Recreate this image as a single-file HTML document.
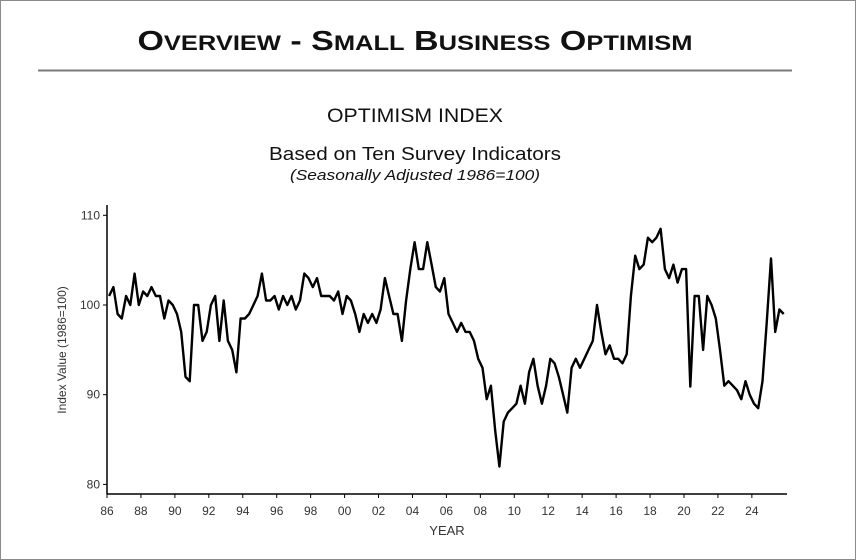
<!DOCTYPE html>
<html><head><meta charset="utf-8"><style>
body{margin:0;background:#fff;width:856px;height:560px;overflow:hidden;font-family:"Liberation Sans",sans-serif}
#frame{position:absolute;left:0;top:0;width:854px;height:558px;border:1px solid #8a8a8a}
</style></head><body>
<div id="frame"></div>
<svg width="856" height="560" style="position:absolute;left:0;top:0">
<text x="415" y="50" text-anchor="middle" font-family="Liberation Sans" font-weight="bold" font-size="28" textLength="555" lengthAdjust="spacingAndGlyphs" fill="#111">O<tspan font-size="21">VERVIEW</tspan> - S<tspan font-size="21">MALL</tspan> B<tspan font-size="21">USINESS</tspan> O<tspan font-size="21">PTIMISM</tspan></text>
<line x1="38" y1="70.5" x2="792" y2="70.5" stroke="#7a7a7a" stroke-width="2"/>
<text x="415" y="122" text-anchor="middle" font-size="19" fill="#111" textLength="176" lengthAdjust="spacingAndGlyphs">OPTIMISM INDEX</text>
<text x="415" y="160" text-anchor="middle" font-size="18" fill="#111" textLength="292" lengthAdjust="spacingAndGlyphs">Based on Ten Survey Indicators</text>
<text x="415" y="180" text-anchor="middle" font-size="15" font-style="italic" fill="#111" textLength="250" lengthAdjust="spacingAndGlyphs">(Seasonally Adjusted 1986=100)</text>
<g id="axes"></g>
<path id="line" fill="none" stroke="#000" stroke-width="2.4" stroke-linejoin="round"/>
<text x="447" y="535" text-anchor="middle" font-size="13" fill="#333">YEAR</text>
<text transform="translate(66,350) rotate(-90)" text-anchor="middle" font-size="12" fill="#333">Index Value (1986=100)</text>
</svg>
<script>
const startYear = 1986;
const quarterlyValues = [
101,102,99,98.5, 101,100,103.5,100, 101.5,101,102,101, 101,98.5,100.5,100,
99,97,92,91.5, 100,100,96,97, 100,101,96,100.5, 96,95,92.5,98.5,
98.5,99,100,101, 103.5,100.5,100.5,101, 99.5,101,100,101, 99.5,100.5,103.5,103,
102,103,101,101, 101,100.5,101.5,99, 101,100.5,99,97, 99,98,99,98,
99.5,103,101,99, 99,96,100.5,104, 107,104,104,107, 104.5,102,101.5,103,
99,98,97,98, 97,97,96,94, 93,89.5,91,86, 82,87,88,88.5,
89,91,89,92.5, 94,91,89,91, 94,93.5,92,90, 88,93,94,93,
94,95,96,100, 97,94.5,95.5,94, 94,93.5,94.5,101, 105.5,104,104.5,107.5,
107,107.5,108.5,104, 103,104.5,102.5,104, 104,90.9,101,101, 95,101,100,98.5,
95,91,91.5,91, 90.5,89.5,91.5,90, 89,88.5,91.5,98, 105.2,97,99.5,99
];
const yTicks = [80,90,100,110];
const xTickLabels = ['86','88','90','92','94','96','98','00','02','04','06','08','10','12','14','16','18','20','22','24'];
const xs = yr => 107 + (yr - 1986) * 16.97;
const ys = v => 305 - (v - 100) * 8.97;
const ns = 'http://www.w3.org/2000/svg';
const axes = document.getElementById('axes');
function mk(tag, attrs){const e=document.createElementNS(ns,tag);for(const k in attrs)e.setAttribute(k,attrs[k]);axes.appendChild(e);return e;}
const ya = mk('line',{x1:107,y1:205,x2:107,y2:494,stroke:'#000','stroke-width':1.5});


const xa = mk('line',{x1:107,y1:494,x2:787,y2:494,stroke:'#000','stroke-width':1.5});


yTicks.forEach(v=>{
  mk('line',{x1:103,y1:ys(v),x2:107,y2:ys(v),stroke:'#000'});
  const t=mk('text',{x:100,y:ys(v)+4,'text-anchor':'end','font-size':12,fill:'#333'});
  t.textContent=v;
  
  
});
xTickLabels.forEach((lab,i)=>{
  const x=xs(startYear+i*2);
  mk('line',{x1:x,y1:494,x2:x,y2:498,stroke:'#000'});
  const t=mk('text',{x:x,y:515,'text-anchor':'middle','font-size':12,fill:'#333'});
  t.textContent=lab;
  
  
});
let d='';
quarterlyValues.forEach((v,i)=>{
  const yr=startYear+i/4+0.125;
  d+=(i?'L':'M')+xs(yr).toFixed(1)+','+ys(v).toFixed(1);
});
document.getElementById('line').setAttribute('d',d);
</script>
</body></html>
